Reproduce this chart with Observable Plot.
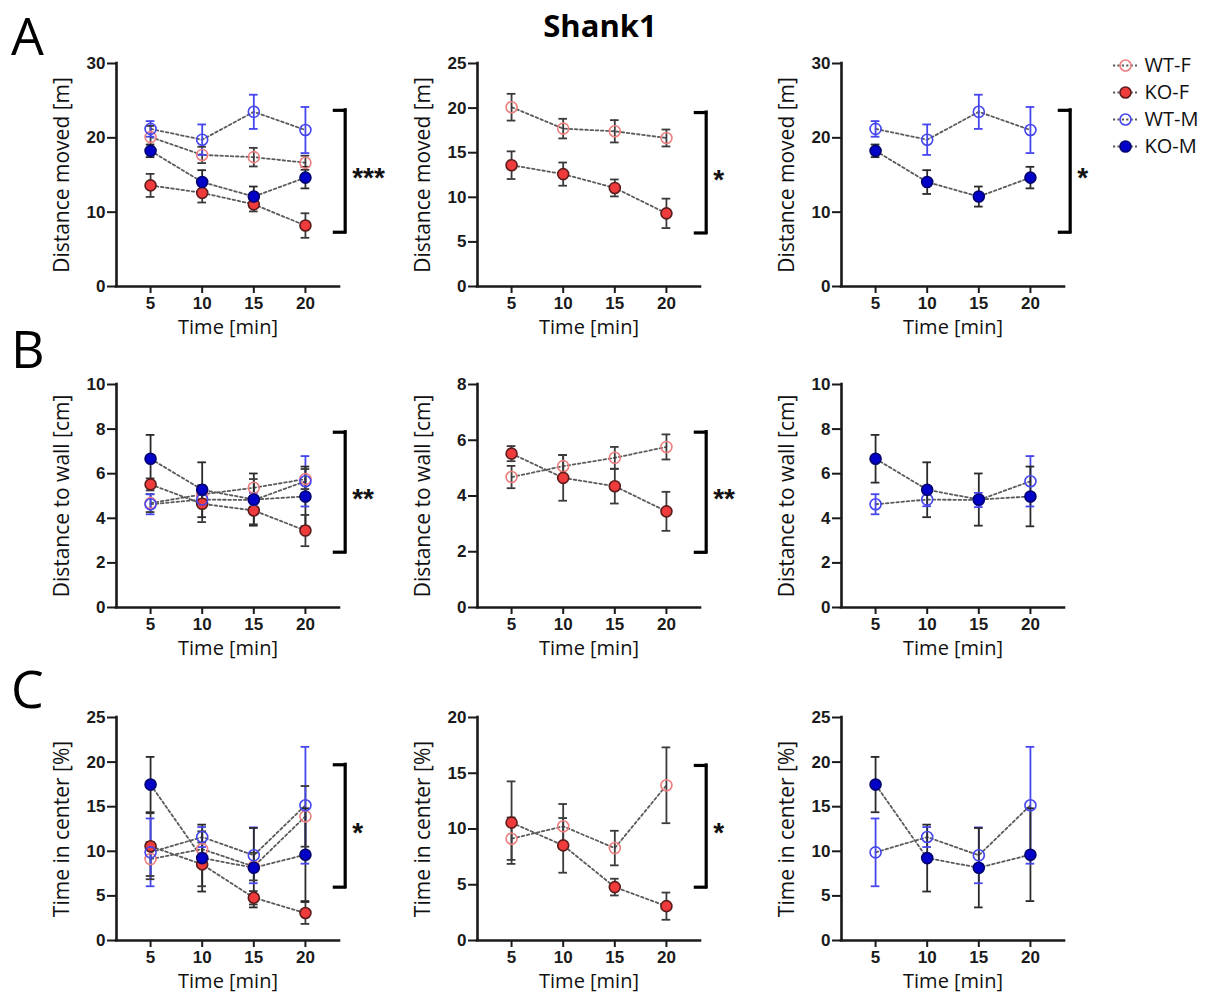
<!DOCTYPE html>
<html>
<head>
<meta charset="utf-8">
<script src="https://cdn.jsdelivr.net/npm/d3@7"></script>
<script src="https://cdn.jsdelivr.net/npm/@observablehq/plot@0.6"></script>
<style>
  html, body { margin: 0; padding: 0; background: #fff; }
  #fig { position: relative; width: 1215px; height: 994px; overflow: hidden; background: #fff; }
  .abs { position: absolute; }
  .letter { font-family: "Open Sans", sans-serif; font-size: 52px; line-height: 52px; color: #000; }
  #title { font-family: "Open Sans", sans-serif; font-weight: bold; font-size: 31px; line-height: 31px; width: 300px; text-align: center; left: 450px; top: 10px; }
</style>
</head>
<body>
<div id="fig">
  <div id="title" class="abs">Shank1</div>
</div>
<script>
// ---------- data ----------
const times = [5, 10, 15, 20];
const groups = ["WT-F", "KO-F", "WT-M", "KO-M"];

// Distance moved [m]  (mean, SEM)
const distWTF = [20.1, 17.7, 17.4, 16.65],  distWTFsem = [1.5, 1.1, 1.25, 0.95];
const distKOF = [13.6, 12.6, 11.05, 8.2],   distKOFsem = [1.55, 1.3, 0.95, 1.65];
const distWTM = [21.2, 19.75, 23.5, 21.05], distWTMsem = [1.05, 2.05, 2.3, 3.1];
const distKOM = [18.25, 14.05, 12.1, 14.65], distKOMsem = [0.85, 1.6, 1.35, 1.45];

// Distance to wall [cm]
const wallWTF = [4.68, 5.07, 5.37, 5.76], wallWTFsem = [0.4, 0.4, 0.39, 0.45];
const wallKOF = [5.52, 4.65, 4.35, 3.45], wallKOFsem = [0.27, 0.82, 0.62, 0.7];
const wallWTM = [4.63, 4.84, 4.82, 5.66], wallWTMsem = [0.45, 0.3, 0.32, 1.13];
const wallKOM = [6.67, 5.28, 4.84, 4.98], wallKOMsem = [1.07, 1.23, 1.17, 1.34];

// Time in center [%]
const centWTF = [9.13, 10.24, 8.29, 13.92], centWTFsem = [1.9, 2.0, 1.55, 3.4];
const centKOF = [10.57, 8.53, 4.79, 3.08],  centKOFsem = [3.7, 2.45, 0.75, 1.22];
const centWTM = [9.88, 11.6, 9.55, 15.16],  centWTMsem = [3.8, 1.12, 3.13, 6.55];
const centKOM = [17.48, 9.24, 8.16, 9.62],  centKOMsem = [3.1, 3.75, 4.45, 5.2];

const rowLetters = ["A", "B", "C"];
const yLabels = ["Distance moved [m]", "Distance to wall [cm]", "Time in center [%]"];
const xLabel = "Time [min]";

// y axis maxima and tick steps per panel [row][col]
const yMax  = [[30, 25, 30], [10, 8, 10], [25, 20, 25]];
const yStep = [[10, 5, 10], [2, 2, 2], [5, 5, 5]];

// significance brackets [row][col]: [low, high, stars] or null
const brackets = [
  [[7.3, 23.7, "***"], [6.0, 19.5, "*"], [7.3, 23.7, "*"]],
  [[2.48, 7.86, "**"], [1.98, 6.29, "**"], null],
  [[5.98, 19.7, "*"], [4.78, 15.7, "*"], null]
];

// ---------- styles ----------
const colGroups = [groups, ["WT-F", "KO-F"], ["WT-M", "KO-M"]];
const fillC   = {"WT-F": "none", "KO-F": "#ef3b3b", "WT-M": "none", "KO-M": "#0000c8"};
const strokeC = {"WT-F": "#ef7f7f", "KO-F": "#5a1c1c", "WT-M": "#4646ee", "KO-M": "#00006e"};
const errC    = {"WT-F": "#3a3a3a", "KO-F": "#3a3a3a", "WT-M": "#4646ee", "KO-M": "#2a2a2a"};
const AX = "#1a1a1a";
const TICKFONT = "'Liberation Sans', Arial, sans-serif";
const LABELFONT = "'Open Sans', sans-serif";

const measures = [
  {"WT-F": [distWTF, distWTFsem], "KO-F": [distKOF, distKOFsem], "WT-M": [distWTM, distWTMsem], "KO-M": [distKOM, distKOMsem]},
  {"WT-F": [wallWTF, wallWTFsem], "KO-F": [wallKOF, wallKOFsem], "WT-M": [wallWTM, wallWTMsem], "KO-M": [wallKOM, wallKOMsem]},
  {"WT-F": [centWTF, centWTFsem], "KO-F": [centKOF, centKOFsem], "WT-M": [centWTM, centWTMsem], "KO-M": [centKOM, centKOMsem]}
];

// layout
const axisXpos = [116, 477, 841];
const plotTop = [63, 384, 717];
const PW = 223, PH = 223, ML = 70, MR = 60, MT = 15, MB = 54;
const xDom = [1.7, 23.3];
const capHalf = 0.42;
const brX = 23.85, brTick = 22.85;

const fig = document.getElementById("fig");

function panel(r, c) {
  const m = measures[r];
  const rows = [];
  for (const g of colGroups[c]) {
    const [mean, sem] = m[g];
    times.forEach((t, i) => rows.push({g, t, m: mean[i], e: sem[i]}));
  }
  const ymax = yMax[r][c];
  const ticks = d3.range(0, ymax + 1e-9, yStep[r][c]);
  const br = brackets[r][c];
  const marks = [
    Plot.ruleX([xDom[0]], {stroke: AX, strokeWidth: 2.6, strokeLinecap: "square"}),
    Plot.ruleY([0], {stroke: AX, strokeWidth: 2.6, strokeLinecap: "square"}),
    Plot.axisY({ticks, tickSize: 9, tickPadding: 2, label: null, fontSize: 17, fontWeight: "bold",
      fontFamily: TICKFONT, color: AX, strokeWidth: 2, tickFormat: d => String(d)}),
    Plot.axisX({ticks: times, tickSize: 7, tickPadding: 3, label: null, fontSize: 17, fontWeight: "bold",
      fontFamily: TICKFONT, color: AX, strokeWidth: 2, tickFormat: d => String(d)}),
    Plot.text([yLabels[r]], {text: d => d, frameAnchor: "left", dx: -54, rotate: -90,
      textAnchor: "middle", lineAnchor: "middle", fontSize: 21, fontFamily: LABELFONT, fill: "#111"}),
    Plot.text([xLabel], {text: d => d, frameAnchor: "bottom", dy: 41,
      textAnchor: "middle", lineAnchor: "middle", fontSize: 20, fontFamily: LABELFONT, fill: "#111"}),
    Plot.line(rows, {x: "t", y: "m", z: "g", stroke: "#5a5a5a", strokeWidth: 1.8, strokeDasharray: "2.6,2.6"}),
    Plot.ruleX(rows, {x: "t", y1: d => d.m - d.e, y2: d => d.m + d.e, stroke: d => errC[d.g], strokeWidth: 1.8}),
    Plot.ruleY(rows, {y: d => d.m + d.e, x1: d => d.t - capHalf, x2: d => d.t + capHalf, stroke: d => errC[d.g], strokeWidth: 1.8}),
    Plot.ruleY(rows, {y: d => d.m - d.e, x1: d => d.t - capHalf, x2: d => d.t + capHalf, stroke: d => errC[d.g], strokeWidth: 1.8}),
    Plot.dot(rows, {x: "t", y: "m", r: 5.5, fill: d => fillC[d.g], stroke: d => strokeC[d.g], strokeWidth: 1.6})
  ];
  if (br) {
    const [lo, hi, stars] = br;
    marks.push(
      Plot.ruleX([brX], {y1: lo, y2: hi, stroke: "#000", strokeWidth: 3.2, strokeLinecap: "square"}),
      Plot.ruleY([lo, hi], {x1: brTick, x2: brX, stroke: "#000", strokeWidth: 3.2, strokeLinecap: "square"}),
      Plot.text([stars], {text: d => d, x: brX, y: (lo + hi) / 2, dx: 7, dy: 7, textAnchor: "start",
        lineAnchor: "middle", fontSize: 28, fontWeight: "bold", fontFamily: TICKFONT, fill: "#111"})
    );
  }
  const svg = Plot.plot({
    width: ML + PW + MR, height: MT + PH + MB,
    marginLeft: ML, marginRight: MR, marginTop: MT, marginBottom: MB,
    x: {domain: xDom, axis: null},
    y: {domain: [0, ymax], axis: null},
    color: {type: "identity"},
    style: {background: "transparent", overflow: "visible", fontFamily: LABELFONT},
    marks
  });
  svg.classList.add("abs");
  svg.style.left = (axisXpos[c] - ML) + "px";
  svg.style.top = (plotTop[r] - MT) + "px";
  svg.style.maxWidth = "none";
  fig.appendChild(svg);
}

for (let r = 0; r < 3; r++) for (let c = 0; c < 3; c++) panel(r, c);

// row letters
const letterTops = [9, 322, 662];
rowLetters.forEach((L, i) => {
  const d = document.createElement("div");
  d.className = "abs letter";
  d.textContent = L;
  d.style.left = "11px";
  d.style.top = letterTops[i] + "px";
  fig.appendChild(d);
});

// legend
const legend = Plot.plot({
  width: 115, height: 112, margin: 0,
  x: {domain: [0, 115], range: [0, 115], axis: null},
  y: {type: "point", domain: groups, range: [15, 96], padding: 0, axis: null},
  color: {type: "identity"},
  style: {background: "transparent", overflow: "visible", fontFamily: LABELFONT},
  marks: [
    Plot.ruleY(groups, {y: d => d, x1: 13, x2: 37, stroke: "#5a5a5a", strokeWidth: 1.8, strokeDasharray: "2.2,2.2"}),
    Plot.dot(groups, {x: 25, y: d => d, r: 5.5, fill: d => fillC[d], stroke: d => strokeC[d], strokeWidth: 1.6}),
    Plot.text(groups, {x: 44, y: d => d, text: d => d, textAnchor: "start", lineAnchor: "middle", fontSize: 20, fontFamily: LABELFONT, fill: "#111"})
  ]
});
legend.classList.add("abs");
legend.style.left = "1100px";
legend.style.top = "50px";
legend.style.maxWidth = "none";
fig.appendChild(legend);
</script>
</body>
</html>
